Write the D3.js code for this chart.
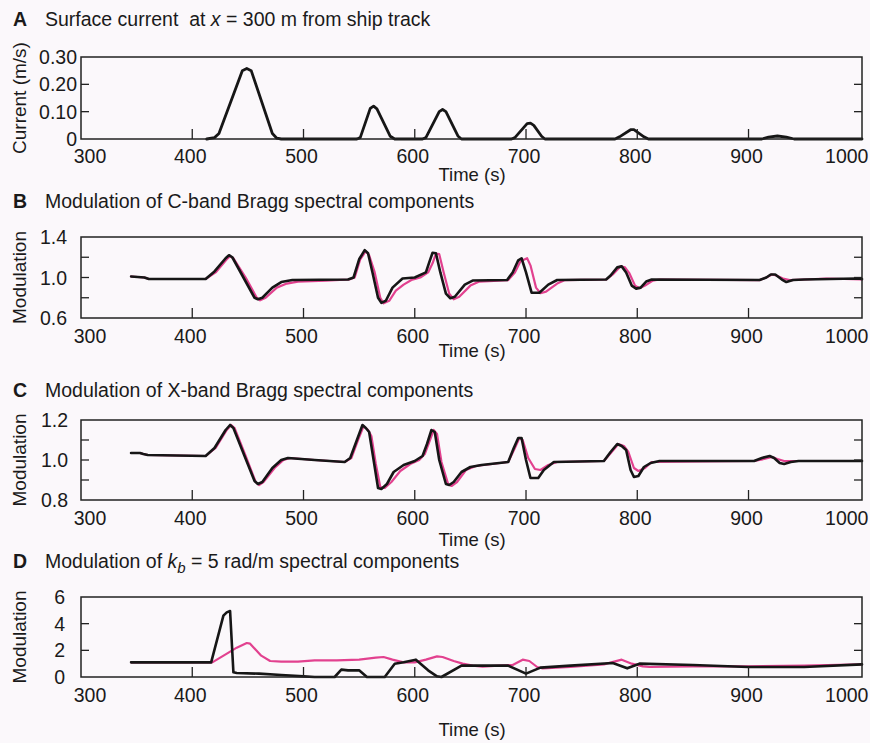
<!DOCTYPE html>
<html>
<head>
<meta charset="utf-8">
<script src="https://cdn.jsdelivr.net/npm/d3@7"></script>
<style>
  body { margin: 0; background: #fbf8fb; }
  svg { display: block; font-family: "Liberation Sans", Arial, Helvetica, sans-serif; }
  .frame { fill: none; stroke: #222; stroke-width: 1.5; }
  .tick { stroke: #222; stroke-width: 1.3; }
  .line { fill: none; stroke-linejoin: round; stroke-linecap: round; }
</style>
</head>
<body>
<div id="chart"></div>
<script>
// shared time axis
const timeTicks = [300, 400, 500, 600, 700, 800, 900, 1000];
const timeDomain = [300, 1002];

// A: surface current (m/s)
const aTime = [413, 420, 424, 445, 449, 453, 472, 476, 480,
  548, 551, 560, 563, 566, 578, 582,
  607, 610, 622, 625, 628, 639, 642,
  687, 690, 701, 704, 707, 714, 717,
  780, 784, 794, 797, 806, 810,
  912, 918, 926, 934, 941, 1002];
const aCurrent = [0, 0.005, 0.02, 0.25, 0.258, 0.25, 0.02, 0.003, 0,
  0, 0.005, 0.112, 0.12, 0.11, 0.01, 0,
  0, 0.005, 0.1, 0.108, 0.1, 0.01, 0,
  0, 0.005, 0.056, 0.058, 0.05, 0.01, 0,
  0, 0.008, 0.034, 0.034, 0.008, 0,
  0, 0.007, 0.011, 0.007, 0, 0];

// B: C-band modulation, model (black) and second curve (magenta)
const bTimeBlack = [345, 357, 361, 390, 412, 420, 430, 433, 436, 446, 456, 459, 463, 472, 480, 490, 540,
  545, 550, 555, 558, 562, 567, 570, 574, 580, 589, 600, 610, 613, 616, 619, 623, 628, 632, 636, 645, 652, 683,
  688, 693, 696, 700, 705, 712, 720, 728, 772, 776, 782, 786, 790, 795, 799, 803, 808, 813,
  910, 916, 920, 924, 930, 934, 940, 950, 997, 1002];
const bBlack = [1.01, 1.0, 0.985, 0.985, 0.985, 1.06, 1.19, 1.22, 1.2, 1.0, 0.8, 0.785, 0.8, 0.9, 0.955, 0.975, 0.98,
  1.0, 1.18, 1.27, 1.24, 1.05, 0.8, 0.75, 0.77, 0.9, 0.99, 1.0, 1.05, 1.15, 1.245, 1.24, 1.05, 0.84, 0.795, 0.81, 0.93, 0.97, 0.975,
  1.05, 1.17, 1.19, 1.05, 0.85, 0.85, 0.93, 0.975, 0.98, 1.02, 1.1, 1.11, 1.05, 0.92, 0.89, 0.9, 0.96, 0.98,
  0.975, 1.0, 1.03, 1.03, 0.98, 0.955, 0.975, 0.98, 0.99, 0.985];
const bTimeMagenta = [345, 357, 361, 412, 421, 431, 434, 437, 448, 458, 461, 466, 476, 485, 495, 520, 541,
  546, 551, 556, 559, 564, 569, 572, 577, 583, 590, 597, 605, 612, 616, 619, 622, 626, 631, 635, 640, 650, 658, 684,
  690, 695, 701, 704, 709, 713, 718, 728, 735, 772, 778, 785, 789, 793, 798, 802, 807, 814, 820,
  910, 916, 921, 925, 931, 937, 950, 970, 1002];
const bMagenta = [1.01, 1.0, 0.985, 0.985, 1.05, 1.18, 1.21, 1.19, 1.0, 0.8, 0.775, 0.8, 0.9, 0.94, 0.96, 0.97, 0.98,
  1.0, 1.18, 1.26, 1.22, 1.05, 0.8, 0.745, 0.77, 0.87, 0.93, 0.975, 1.0, 1.05, 1.14, 1.235, 1.23, 1.05, 0.84, 0.785, 0.81, 0.92, 0.96, 0.975,
  1.05, 1.16, 1.19, 1.12, 0.9, 0.845, 0.86, 0.94, 0.975, 0.98, 1.03, 1.11, 1.1, 1.04, 0.92, 0.895, 0.92, 0.97, 0.98,
  0.975, 1.0, 1.03, 1.02, 0.99, 0.975, 0.98, 0.99, 0.98];

// C: X-band modulation
const cTimeBlack = [345, 353, 356, 360, 412, 420, 430, 434, 437, 447, 456, 459, 463, 472, 480, 486, 510, 537,
  542, 548, 553, 556, 559, 563, 567, 570, 575, 581, 590, 600, 607, 611, 615, 618, 622, 628, 631, 635, 642, 650, 660, 684,
  689, 693, 696, 700, 704, 711, 716, 725, 770, 776, 782, 786, 790, 794, 797, 801, 806, 812, 820,
  905, 912, 919, 923, 928, 932, 938, 945, 1002];
const cBlack = [1.035, 1.035, 1.03, 1.025, 1.02, 1.06, 1.15, 1.175, 1.16, 1.02, 0.895, 0.88, 0.89, 0.96, 1.0, 1.01, 1.0, 0.99,
  1.01, 1.1, 1.175, 1.16, 1.14, 1.0, 0.86, 0.855, 0.88, 0.94, 0.975, 0.995, 1.02, 1.08, 1.15, 1.14, 1.0, 0.88, 0.875, 0.89, 0.94, 0.965, 0.975, 0.99,
  1.06, 1.11, 1.11, 1.0, 0.91, 0.91, 0.95, 0.99, 0.995, 1.04, 1.08, 1.07, 1.05, 0.95, 0.915, 0.92, 0.965, 0.985, 0.995,
  0.995, 1.01, 1.02, 1.01, 0.985, 0.98, 0.99, 0.995, 0.995];
const cTimeMagenta = [345, 353, 356, 360, 412, 421, 431, 435, 438, 448, 457, 460, 464, 474, 482, 488, 510, 537,
  543, 549, 554, 558, 561, 565, 569, 573, 579, 587, 596, 604, 609, 613, 617, 620, 624, 630, 633, 638, 646, 655, 684,
  690, 694, 697, 702, 708, 713, 720, 728, 770, 777, 783, 788, 792, 797, 801, 807, 813,
  905, 914, 921, 926, 932, 1002];
const cMagenta = [1.035, 1.035, 1.03, 1.025, 1.02, 1.06, 1.15, 1.175, 1.16, 1.02, 0.89, 0.875, 0.89, 0.96, 1.0, 1.01, 1.0, 0.99,
  1.01, 1.1, 1.17, 1.15, 1.12, 0.98, 0.865, 0.86, 0.89, 0.945, 0.98, 1.0, 1.03, 1.09, 1.15, 1.13, 0.99, 0.88, 0.87, 0.89, 0.95, 0.97, 0.99,
  1.06, 1.11, 1.1, 1.01, 0.955, 0.95, 0.975, 0.99, 0.995, 1.04, 1.08, 1.07, 1.04, 0.96, 0.945, 0.96, 0.99,
  0.995, 1.005, 1.015, 1.005, 0.995, 0.995];

// D: kb = 5 rad/m modulation
const dTimeBlack = [345, 417, 428, 431, 434, 437, 440, 460, 480, 500, 510, 528, 534, 540, 550, 557, 573,
  582, 590, 601, 612, 620, 624, 642, 684, 700, 713, 740, 778, 791, 802, 850, 900, 950, 1002];
const dBlack = [1.1, 1.1, 4.6, 4.85, 4.95, 0.35, 0.3, 0.25, 0.15, 0.05, 0, 0, 0.55, 0.5, 0.5, 0, 0,
  1.0, 1.1, 1.3, 0.5, 0.05, 0, 0.85, 0.85, 0.25, 0.7, 0.85, 1.05, 0.65, 1.0, 0.9, 0.75, 0.75, 0.95];
const dTimeMagenta = [345, 418, 430, 440, 449, 452, 462, 470, 480, 495, 510, 530, 550, 565, 572, 580, 590, 600,
  610, 620, 625, 635, 643, 652, 661, 675, 688, 697, 703, 710, 715, 740, 770, 786, 795, 805, 811, 850, 900, 950, 1002];
const dMagenta = [1.1, 1.1, 1.7, 2.2, 2.55, 2.5, 1.6, 1.2, 1.15, 1.15, 1.25, 1.25, 1.3, 1.45, 1.5, 1.3, 1.1, 1.1,
  1.3, 1.55, 1.5, 1.2, 1.0, 0.85, 0.78, 0.85, 0.9, 1.3, 1.2, 0.75, 0.65, 0.75, 0.95, 1.3, 1.0, 0.8, 0.75, 0.8, 0.8, 0.85, 0.95];

const BLACK = "#161616";
const MAGENTA = "#e2418f";

const panels = [
  {
    letter: "A", top: 57, bottom: 139, titleY: 26, tickY: 163, timeY: 181,
    title: [{ t: "Surface current  at " }, { t: "x", it: true }, { t: " = 300 m from ship track" }],
    yLabel: "Current (m/s)", yDomain: [0, 0.30],
    yLabels: [0, 0.10, 0.20, 0.30], yFmt: d => d === 0 ? "0" : d3.format(".2f")(d), yLabelX: 77,
    yTicks: [0.10, 0.20],
    series: [{ t: aTime, v: aCurrent, color: BLACK, w: 2.8 }]
  },
  {
    letter: "B", top: 237, bottom: 318, titleY: 208, tickY: 343, timeY: 357,
    title: [{ t: "Modulation of C-band Bragg spectral components" }],
    yLabel: "Modulation", yDomain: [0.6, 1.4],
    yLabels: [0.6, 1.0, 1.4], yFmt: d3.format(".1f"), yLabelX: 67,
    yTicks: [0.8, 1.0, 1.2],
    series: [
      { t: bTimeMagenta, v: bMagenta, color: MAGENTA, w: 2.2 },
      { t: bTimeBlack, v: bBlack, color: BLACK, w: 2.6 }
    ]
  },
  {
    letter: "C", top: 420, bottom: 500, titleY: 397, tickY: 525, timeY: 546,
    title: [{ t: "Modulation of X-band Bragg spectral components" }],
    yLabel: "Modulation", yDomain: [0.8, 1.2],
    yLabels: [0.8, 1.0, 1.2], yFmt: d3.format(".1f"), yLabelX: 68,
    yTicks: [0.9, 1.0, 1.1],
    series: [
      { t: cTimeMagenta, v: cMagenta, color: MAGENTA, w: 2.2 },
      { t: cTimeBlack, v: cBlack, color: BLACK, w: 2.6 }
    ]
  },
  {
    letter: "D", top: 597, bottom: 677, titleY: 568, tickY: 702, timeY: 736,
    title: [{ t: "Modulation of " }, { t: "k", it: true }, { t: "b", it: true, sub: true }, { t: " = 5 rad/m spectral components", unsub: true }],
    yLabel: "Modulation", yDomain: [0, 6],
    yLabels: [0, 2, 4, 6], yFmt: d3.format("d"), yLabelX: 65,
    yTicks: [2, 4],
    series: [
      { t: dTimeMagenta, v: dMagenta, color: MAGENTA, w: 2.2 },
      { t: dTimeBlack, v: dBlack, color: BLACK, w: 2.6 }
    ]
  }
];

const width = 870, height = 743;
const left = 81, right = 862;

const svg = d3.select("#chart").append("svg")
  .attr("width", width)
  .attr("height", height);

const x = d3.scaleLinear().domain(timeDomain).range([left, right]);

panels.forEach(p => {
  const y = d3.scaleLinear().domain(p.yDomain).range([p.bottom, p.top]);
  const g = svg.append("g").attr("class", "panel panel-" + p.letter);

  // title: bold letter, then the text from x = 45
  g.append("text")
    .attr("x", 13).attr("y", p.titleY)
    .attr("font-size", 19.5).attr("font-weight", "bold")
    .attr("fill", "#1a1a1a")
    .text(p.letter);
  const title = g.append("text")
    .attr("x", 45).attr("y", p.titleY)
    .attr("font-size", 19.5)
    .attr("fill", "#1a1a1a")
    .style("white-space", "pre");
  p.title.forEach(s => {
    const ts = title.append("tspan").text(s.t);
    if (s.it) ts.attr("font-style", "italic");
    if (s.sub) ts.attr("dy", 5).attr("font-size", 15);
    if (s.unsub) ts.attr("dy", -5);
  });

  // lines (drawn under the frame)
  const line = d3.line().x(d => x(d[0])).y(d => y(d[1]));
  p.series.forEach(s => {
    g.append("path")
      .attr("class", "line")
      .attr("stroke", s.color)
      .attr("stroke-width", s.w)
      .attr("d", line(d3.zip(s.t, s.v)));
  });

  // frame
  g.append("rect")
    .attr("class", "frame")
    .attr("x", left).attr("y", p.top)
    .attr("width", right - left).attr("height", p.bottom - p.top);

  // inward ticks on the bottom
  g.selectAll(".xtick").data(timeTicks.filter(t => t > 300 && t < 1000)).join("line")
    .attr("class", "tick")
    .attr("x1", d => x(d)).attr("x2", d => x(d))
    .attr("y1", p.bottom).attr("y2", p.bottom - 10);

  // inward ticks, left and right
  p.yTicks.forEach(v => {
    g.append("line").attr("class", "tick")
      .attr("x1", left).attr("x2", left + 8).attr("y1", y(v)).attr("y2", y(v));
    g.append("line").attr("class", "tick")
      .attr("x1", right).attr("x2", right - 8).attr("y1", y(v)).attr("y2", y(v));
  });

  // x tick labels
  g.selectAll(".xlabel").data(timeTicks).join("text")
    .attr("class", "xlabel")
    .attr("x", d => d === 300 ? x(d) + 9 : d === 1000 ? x(d) - 13 : x(d) - 2)
    .attr("y", p.tickY)
    .attr("text-anchor", "middle")
    .attr("font-size", 19.5)
    .attr("fill", "#1a1a1a")
    .text(d => d);

  // y tick labels
  g.selectAll(".ylabel").data(p.yLabels).join("text")
    .attr("class", "ylabel")
    .attr("x", p.yLabelX)
    .attr("y", d => y(d))
    .attr("dy", "0.36em")
    .attr("text-anchor", "end")
    .attr("font-size", 19.5)
    .attr("fill", "#1a1a1a")
    .text(p.yFmt);

  // axis titles
  g.append("text")
    .attr("transform", `translate(26,${(p.top + p.bottom) / 2}) rotate(-90)`)
    .attr("text-anchor", "middle")
    .attr("font-size", 19)
    .attr("fill", "#1a1a1a")
    .text(p.yLabel);

  g.append("text")
    .attr("x", 472)
    .attr("y", p.timeY)
    .attr("text-anchor", "middle")
    .attr("font-size", 18.5)
    .attr("fill", "#1a1a1a")
    .text("Time (s)");
});
</script>
</body>
</html>
